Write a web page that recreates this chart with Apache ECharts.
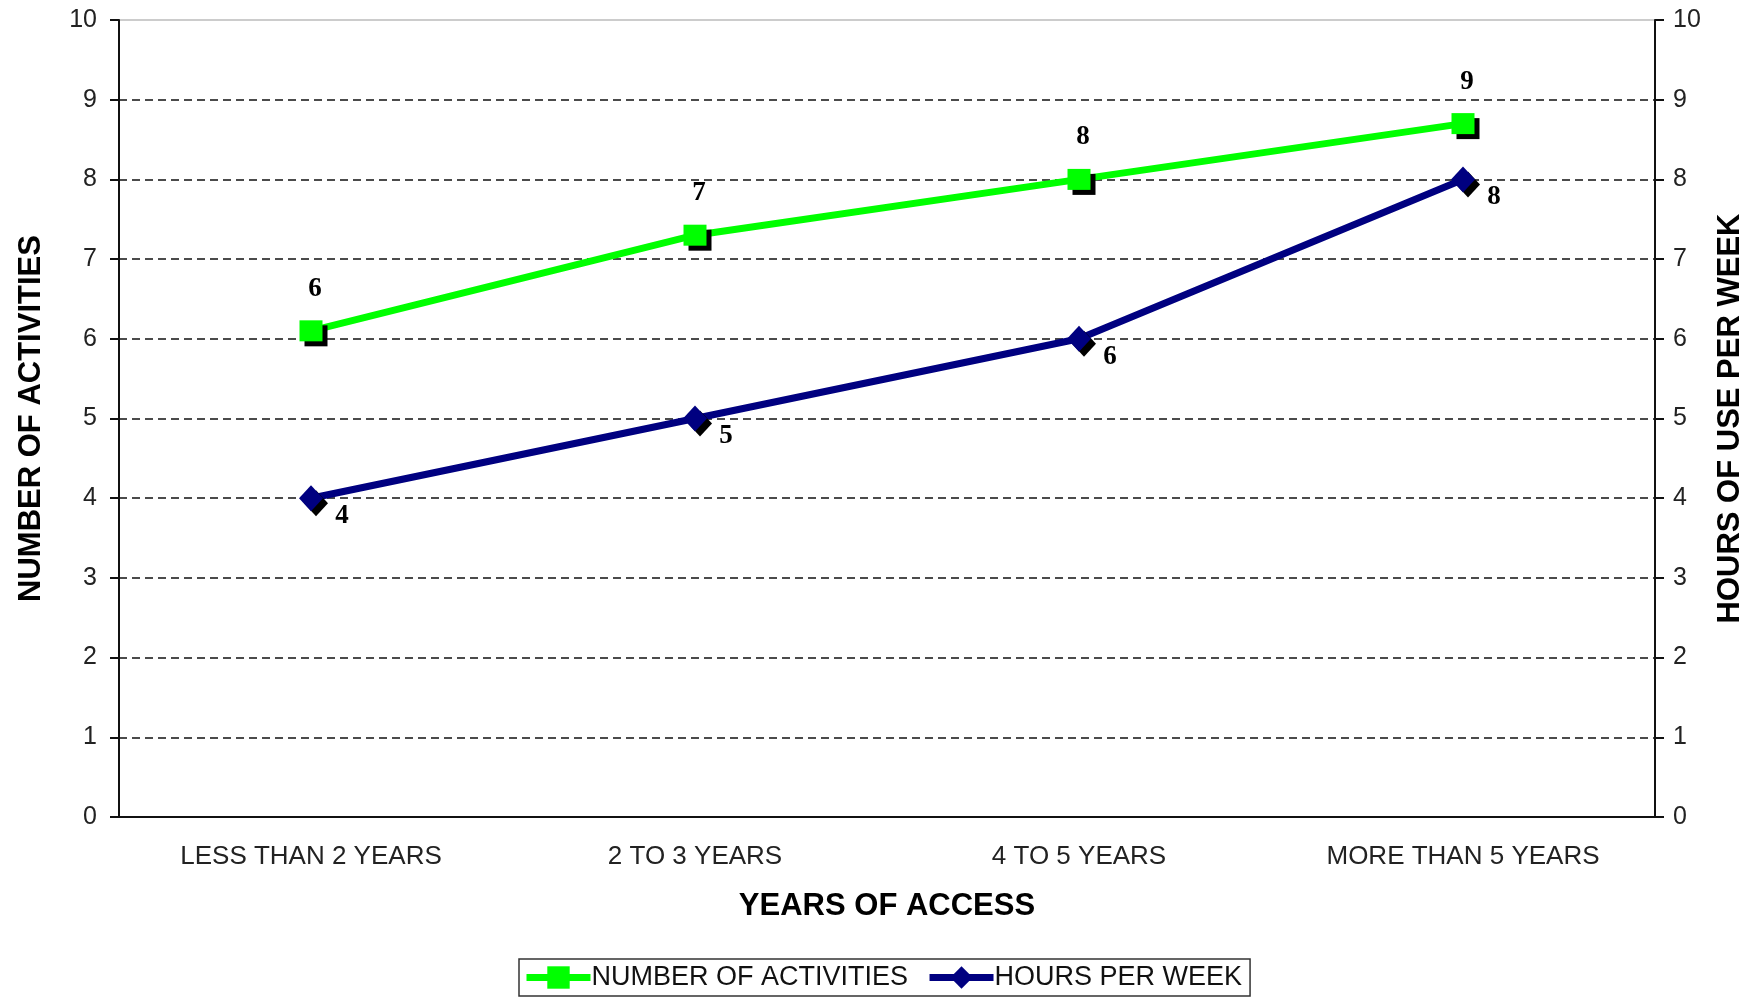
<!DOCTYPE html>
<html>
<head>
<meta charset="utf-8">
<title>Years of access</title>
<script src="https://cdn.jsdelivr.net/npm/echarts@6/dist/echarts.min.js"></script>
<style>
  html, body { margin: 0; padding: 0; background: #fff; }
  #chart { width: 1758px; height: 999px; }
</style>
</head>
<body>
<div id="chart"></div>
<script>
// Categories along the x axis
const categories = ['LESS THAN 2 YEARS', '2 TO 3 YEARS', '4 TO 5 YEARS', 'MORE THAN 5 YEARS'];
// Average number of activities (left axis)
const activities = [6.1, 7.3, 8.0, 8.7];
// Average hours of use per week (right axis)
const hoursPerWeek = [4, 5, 6, 8];
// Tick values shared by both value axes
const axisMin = 0;
const axisMax = 10;
const axisStep = 1;

const sans = '"Liberation Sans", Arial, sans-serif';
const serif = '"Liberation Serif", "Times New Roman", serif';

const chart = echarts.init(document.getElementById('chart'), null, { renderer: 'canvas' });

function valueAxis(position, name, nameGap, labelMargin, withGrid) {
  return {
    type: 'value',
    position: position,
    min: axisMin,
    max: axisMax,
    interval: axisStep,
    name: name,
    nameLocation: 'middle',
    nameRotate: 90,
    nameGap: nameGap,
    nameTextStyle: { fontFamily: sans, fontWeight: 'bold', fontSize: 31, color: '#000' },
    axisLine: { show: true, lineStyle: { color: '#111', width: 2 } },
    axisTick: { show: true, length: 9, lineStyle: { color: '#111', width: 2 } },
    axisLabel: { fontFamily: sans, fontSize: 25, color: '#222', margin: labelMargin },
    splitLine: {
      show: withGrid,
      showMinLine: false,
      showMaxLine: false,
      lineStyle: { color: '#111', width: 1.5, type: [8, 5] }
    }
  };
}

const markShadow = { shadowColor: '#000', shadowBlur: 0, shadowOffsetX: 5, shadowOffsetY: 5 };

chart.setOption({
  animation: false,
  backgroundColor: '#fff',
  grid: {
    left: 119, right: 103, top: 20, bottom: 182,
    show: true, borderColor: '#999', borderWidth: 1
  },
  legend: {
    top: 959,
    left: 519,
    padding: [5, 8, 5, 4],
    borderColor: '#333',
    borderWidth: 1.5,
    itemWidth: 64,
    itemHeight: 28,
    itemGap: 18,
    textStyle: { fontFamily: sans, fontSize: 27, color: '#111', padding: [0, 0, 0, -4] },
    data: [
      { name: 'NUMBER OF ACTIVITIES', lineStyle: { width: 7 }, itemStyle: { shadowOffsetX: 0, shadowOffsetY: 0 } },
      { name: 'HOURS PER WEEK', lineStyle: { width: 7 }, itemStyle: { shadowOffsetX: 0, shadowOffsetY: 0 } }
    ]
  },
  xAxis: {
    type: 'category',
    data: categories,
    boundaryGap: true,
    name: 'YEARS OF ACCESS',
    nameLocation: 'middle',
    nameGap: 74,
    nameTextStyle: { fontFamily: sans, fontWeight: 'bold', fontSize: 31, color: '#000' },
    axisLine: { lineStyle: { color: '#111', width: 2 } },
    axisTick: { length: 10, lineStyle: { color: '#111', width: 2 } },
    axisLabel: { fontFamily: sans, fontSize: 26, color: '#222', margin: 27 },
    splitLine: { show: false }
  },
  yAxis: [
    valueAxis('left', 'NUMBER OF ACTIVITIES', 72, 22, true),
    valueAxis('right', 'HOURS OF USE PER WEEK', 60, 18, false)
  ],
  series: [
    {
      name: 'NUMBER OF ACTIVITIES',
      type: 'line',
      yAxisIndex: 0,
      data: activities,
      symbol: 'rect',
      symbolSize: [23, 21],
      lineStyle: { color: '#00FF00', width: 7 },
      itemStyle: Object.assign({ color: '#00FF00' }, markShadow),
      z: 3,
      label: {
        show: true,
        position: 'top',
        distance: 18,
        offset: [4, 0],
        fontFamily: serif,
        fontWeight: 'bold',
        fontSize: 27,
        color: '#000',
        formatter: p => Math.round(p.value).toString()
      }
    },
    {
      name: 'HOURS PER WEEK',
      type: 'line',
      yAxisIndex: 1,
      data: hoursPerWeek,
      symbol: 'diamond',
      symbolSize: [24, 26],
      lineStyle: { color: '#000080', width: 7 },
      itemStyle: Object.assign({ color: '#000080' }, markShadow),
      z: 3,
      label: {
        show: true,
        position: 'inside',
        offset: [31, 18],
        fontFamily: serif,
        fontWeight: 'bold',
        fontSize: 27,
        color: '#000',
        formatter: p => Math.round(p.value).toString()
      }
    }
  ]
});
</script>
</body>
</html>
